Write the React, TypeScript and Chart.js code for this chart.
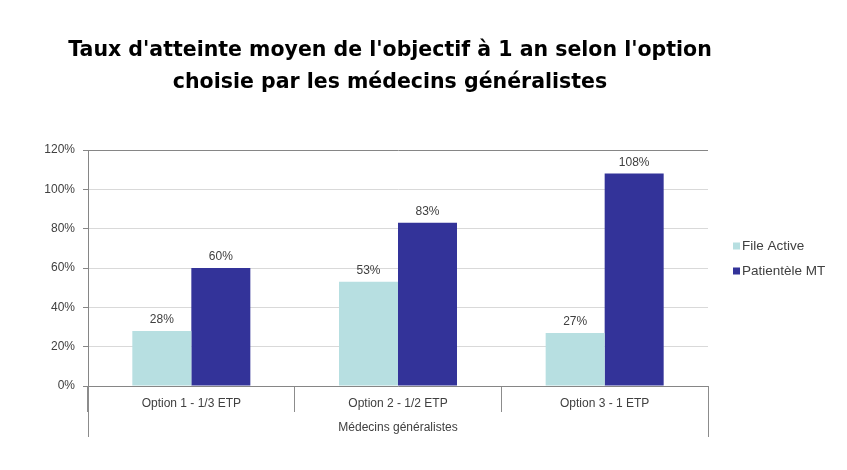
import React, { useEffect, useRef } from "react";
import { Chart, registerables } from "chart.js";

Chart.register(...registerables);

const titleLines = ["Taux d'atteinte moyen de l'objectif à 1 an selon l'option", "choisie par les médecins généralistes"];
const categories = ["Option 1 - 1/3 ETP", "Option 2 - 1/2 ETP", "Option 3 - 1 ETP"];
const groupLabel = "Médecins généralistes";
const seriesNames = ["File Active", "Patientèle MT"];
const fileActive = [28, 53, 27];
const patienteleMT = [60, 83, 108];
const seriesColors = ["#B7DFE1", "#333399"];
const yMax = 120;
const yStep = 20;

const FONT = "'Liberation Sans', Arial, sans-serif";
const TITLE_FONT = "'DejaVu Sans', sans-serif";

const extrasPlugin = {
  id: "extras",
  afterDraw(chart: any) {
    const ctx = chart.ctx;
    const area = chart.chartArea;
    ctx.save();
    // title
    ctx.fillStyle = "#000000";
    ctx.font = `bold 20.5px ${TITLE_FONT}`;
    ctx.textAlign = "center";
    ctx.textBaseline = "middle";
    titleLines.forEach((line, i) => {
      ctx.fillText(line, 382, 43 + i * 32);
    });
    // outer group separators
    ctx.strokeStyle = "#8c8c8c";
    ctx.lineWidth = 1;
    [area.left, area.right].forEach((x: number) => {
      const px = Math.round(x) + 0.5;
      ctx.beginPath();
      ctx.moveTo(px, area.bottom);
      ctx.lineTo(px, area.bottom + 51);
      ctx.stroke();
    });
    // data labels
    ctx.font = `12px ${FONT}`;
    ctx.fillStyle = "#404040";
    ctx.textAlign = "center";
    ctx.textBaseline = "middle";
    chart.data.datasets.forEach((ds: any, di: number) => {
      const meta = chart.getDatasetMeta(di);
      meta.data.forEach((el: any, i: number) => {
        ctx.fillText(`${ds.data[i]}%`, el.x, el.y - 11);
      });
    });
    // legend
    ctx.font = `13.5px ${FONT}`;
    ctx.textAlign = "left";
    chart.data.datasets.forEach((ds: any, di: number) => {
      const cy = 238 + di * 25;
      ctx.fillStyle = ds.backgroundColor;
      ctx.fillRect(725, cy - 3.5, 7, 7);
      ctx.fillStyle = "#404040";
      ctx.fillText(ds.label, 734, cy);
    });
    ctx.restore();
  },
};

export default function App() {
  const ref = useRef<HTMLCanvasElement>(null);
  useEffect(() => {
    if (!ref.current) return;
    const chart = new Chart(ref.current, {
      type: "bar",
      data: {
        labels: categories,
        datasets: [
          { label: seriesNames[0], data: fileActive, backgroundColor: seriesColors[0], categoryPercentage: 0.571, barPercentage: 1 },
          { label: seriesNames[1], data: patienteleMT, backgroundColor: seriesColors[1], categoryPercentage: 0.571, barPercentage: 1 },
        ],
      },
      options: {
        animation: false,
        responsive: true,
        maintainAspectRatio: false,
        layout: { padding: { top: 142, right: 131, bottom: 0, left: 0 } },
        plugins: {
          legend: { display: false },
          title: { display: false },
          tooltip: { enabled: false },
        },
        scales: {
          x: {
            afterFit: (scale: any) => {
              scale.height = 76;
            },
            grid: {
              offset: true,
              drawOnChartArea: false,
              color: "#8c8c8c",
              tickLength: 26,
            },
            border: { color: "#868686" },
            ticks: {
              font: { family: FONT, size: 12 },
              color: "#404040",
              padding: -16,
            },
            title: {
              display: true,
              text: groupLabel,
              font: { family: FONT, size: 12 },
              color: "#404040",
              padding: { top: 0, bottom: 27 },
            },
          },
          y: {
            min: 0,
            max: yMax,
            afterFit: (scale: any) => {
              scale.width = 80;
            },
            grid: {
              color: (c: any) => (c.tick && c.tick.value === yMax ? "#868686" : "#d9d9d9"),
              tickColor: "#868686",
              tickLength: 5,
            },
            border: { color: "#868686" },
            ticks: {
              stepSize: yStep,
              font: { family: FONT, size: 12 },
              color: "#404040",
              padding: 8,
              callback: (v: any) => `${v}%`,
            },
          },
        },
      },
      plugins: [extrasPlugin],
    });
    return () => chart.destroy();
  }, []);
  return (
    <div style={{ position: "relative", width: 831, height: 454 }}>
      <canvas ref={ref} />
    </div>
  );
}
